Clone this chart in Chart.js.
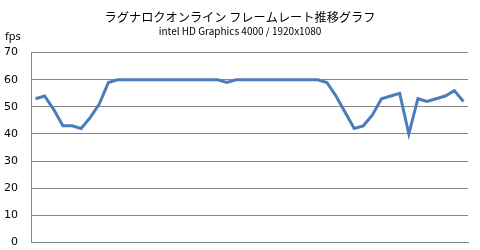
<!DOCTYPE html>
<html>
<head>
<meta charset="utf-8">
<script src="https://cdn.jsdelivr.net/npm/chart.js@4"></script>
<style>
  html, body { margin: 0; padding: 0; background: #fff; }
  canvas { display: block; }
</style>
</head>
<body>
<canvas id="fpsChart" width="480" height="250"></canvas>
<script>
const chartTitle = "ラグナロクオンライン フレームレート推移グラフ";
const chartSubtitle = "intel HD Graphics 4000 / 1920x1080";
const yUnit = "fps";

const samples = [
  1, 2, 3, 4, 5, 6, 7, 8, 9, 10, 11, 12, 13, 14, 15, 16,
  17, 18, 19, 20, 21, 22, 23, 24, 25, 26, 27, 28, 29, 30, 31, 32,
  33, 34, 35, 36, 37, 38, 39, 40, 41, 42, 43, 44, 45, 46, 47, 48,
];
const fps = [
  53, 54, 49, 43, 43, 42, 46, 51, 59, 60, 60, 60, 60, 60, 60, 60,
  60, 60, 60, 60, 60, 59, 60, 60, 60, 60, 60, 60, 60, 60, 60, 60,
  59, 54, 48, 42, 43, 47, 53, 54, 55, 40, 53, 52, 53, 54, 56, 52,
];
const yTicks = [0, 10, 20, 30, 40, 50, 60, 70];

// draws the "fps" unit label above the y axis
const unitLabel = {
  id: "unitLabel",
  afterDraw(chart) {
    const ctx = chart.ctx;
    ctx.save();
    ctx.font = "11px 'Noto Sans'";
    ctx.fillStyle = "#000";
    ctx.textAlign = "left";
    ctx.textBaseline = "middle";
    ctx.fillText(yUnit, 5, 37);
    ctx.restore();
  },
};

const ctx = document.getElementById("fpsChart").getContext("2d");

const chart = new Chart(ctx, {
  type: "line",
  data: {
    labels: samples,
    datasets: [
      {
        label: yUnit,
        data: fps,
        borderColor: "#4a7ebb",
        borderWidth: 3,
        pointRadius: 0,
        fill: false,
        tension: 0,
      },
    ],
  },
  options: {
    responsive: false,
    maintainAspectRatio: false,
    animation: false,
    layout: {
      padding: { left: 0, right: 0, top: 0, bottom: 0 },
    },
    plugins: {
      legend: { display: false },
      tooltip: { enabled: false },
      title: {
        display: true,
        text: chartTitle,
        color: "#000",
        font: { family: "'Noto Sans CJK JP'", size: 12.2, weight: "normal" },
        padding: { top: 10, bottom: 0 },
      },
      subtitle: {
        display: true,
        text: chartSubtitle,
        color: "#000",
        font: { family: "'Noto Sans CJK JP'", size: 10, weight: "normal" },
        padding: { top: 1, bottom: 15 },
      },
    },
    scales: {
      x: {
        offset: true,
        afterFit: (scale) => {
          scale.height = 0;
        },
        ticks: { display: false },
        grid: { display: false, drawTicks: false },
        border: { color: "#868686", width: 1 },
      },
      y: {
        min: 0,
        max: 70,
        afterBuildTicks: (scale) => {
          scale.ticks = yTicks.map((v) => ({ value: v }));
        },
        afterFit: (scale) => {
          scale.width = 31;
        },
        ticks: {
          color: "#000",
          padding: 1,
          font: { family: "'DejaVu Sans'", size: 11 },
        },
        // invisible tick marks keep the labels away from the axis
        grid: {
          color: "#868686",
          drawTicks: true,
          tickLength: 12,
          tickColor: "rgba(0,0,0,0)",
        },
        border: { color: "#868686", width: 1 },
      },
      // empty right-hand axis, only reserves the margin on the right
      yRight: {
        position: "right",
        min: 0,
        max: 70,
        afterFit: (scale) => {
          scale.width = 12;
        },
        ticks: { display: false },
        grid: { display: false, drawTicks: false },
        border: { display: false },
      },
    },
  },
  plugins: [unitLabel],
});
</script>
</body>
</html>
